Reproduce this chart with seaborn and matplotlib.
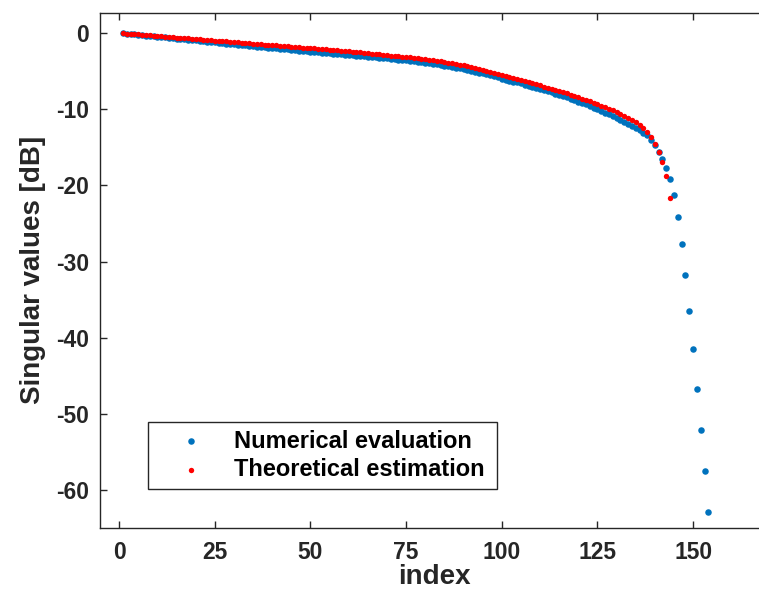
import numpy as np
import pandas as pd
import matplotlib
matplotlib.use("Agg")
import matplotlib.pyplot as plt
import seaborn as sns

# ---------------- data ----------------
numerical_db = [
    0.00, -0.05, -0.10, -0.15, -0.20, -0.25, -0.30, -0.35, -0.40, -0.45,
    -0.50, -0.55, -0.60, -0.65, -0.70, -0.75, -0.80, -0.85, -0.90, -0.95,
    -1.00, -1.05, -1.10, -1.15, -1.20, -1.25, -1.30, -1.35, -1.40, -1.45,
    -1.50, -1.55, -1.60, -1.65, -1.70, -1.75, -1.80, -1.85, -1.90, -1.95,
    -2.00, -2.04, -2.09, -2.13, -2.18, -2.22, -2.27, -2.31, -2.36, -2.40,
    -2.45, -2.49, -2.54, -2.58, -2.63, -2.67, -2.72, -2.76, -2.81, -2.85,
    -2.90, -2.94, -2.99, -3.03, -3.08, -3.12, -3.17, -3.21, -3.26, -3.30,
    -3.35, -3.40, -3.45, -3.50, -3.55, -3.61, -3.67, -3.73, -3.79, -3.85,
    -3.93, -4.01, -4.09, -4.17, -4.25, -4.34, -4.43, -4.52, -4.61, -4.70,
    -4.81, -4.92, -5.04, -5.16, -5.28, -5.40, -5.53, -5.66, -5.80, -5.95,
    -6.08, -6.21, -6.34, -6.47, -6.60, -6.74, -6.88, -7.02, -7.16, -7.30,
    -7.45, -7.60, -7.76, -7.92, -8.08, -8.25, -8.42, -8.60, -8.78, -8.97,
    -9.16, -9.36, -9.56, -9.77, -9.98, -10.20, -10.42, -10.65, -10.88, -11.12,
    -11.37, -11.62, -11.88, -12.15, -12.45, -12.75, -13.05, -13.40, -14.00, -14.70,
    -15.60, -16.50, -17.70, -19.20, -21.30, -24.10, -27.70, -31.80, -36.50, -41.50,
    -46.80, -52.10, -57.50, -62.90,
]
numerical_index = list(range(1, len(numerical_db) + 1))

theoretical_db = [
    0.00, -0.04, -0.08, -0.12, -0.16, -0.20, -0.24, -0.28, -0.32, -0.36,
    -0.40, -0.44, -0.48, -0.52, -0.56, -0.60, -0.64, -0.68, -0.72, -0.76,
    -0.80, -0.84, -0.88, -0.92, -0.96, -1.00, -1.04, -1.08, -1.12, -1.16,
    -1.20, -1.24, -1.28, -1.32, -1.36, -1.40, -1.44, -1.48, -1.52, -1.56,
    -1.60, -1.64, -1.68, -1.72, -1.76, -1.80, -1.84, -1.88, -1.92, -1.96,
    -2.00, -2.04, -2.08, -2.12, -2.16, -2.20, -2.24, -2.28, -2.33, -2.38,
    -2.43, -2.48, -2.53, -2.58, -2.63, -2.68, -2.73, -2.78, -2.83, -2.88,
    -2.93, -2.98, -3.03, -3.08, -3.13, -3.18, -3.23, -3.29, -3.35, -3.41,
    -3.48, -3.55, -3.62, -3.70, -3.78, -3.86, -3.95, -4.04, -4.13, -4.23,
    -4.33, -4.44, -4.55, -4.67, -4.79, -4.92, -5.05, -5.18, -5.32, -5.46,
    -5.60, -5.74, -5.88, -6.02, -6.16, -6.30, -6.44, -6.58, -6.72, -6.86,
    -7.00, -7.14, -7.29, -7.44, -7.59, -7.75, -7.91, -8.07, -8.24, -8.41,
    -8.58, -8.76, -8.94, -9.13, -9.32, -9.52, -9.72, -9.93, -10.14, -10.36,
    -10.59, -10.83, -11.08, -11.35, -11.65, -12.00, -12.42, -12.95, -13.65, -14.55,
    -15.60, -16.90, -18.70, -21.70,
]
theoretical_index = list(range(1, len(theoretical_db) + 1))

series_labels = ["Numerical evaluation", "Theoretical estimation"]
x_ticks = [0, 25, 50, 75, 100, 125, 150]
y_ticks = [-60, -50, -40, -30, -20, -10, 0]
x_label = "index"
y_label = "Singular values [dB]"

# ---------------- style ----------------
sns.set_theme(style="ticks")
plt.rcParams["font.family"] = ["Liberation Sans", "DejaVu Sans"]
plt.rcParams["font.weight"] = "bold"
plt.rcParams["axes.labelweight"] = "bold"
plt.rcParams["axes.unicode_minus"] = False

dark = (0.15, 0.15, 0.15)
blue = "#0072BD"
red = "#FF0000"

fig = plt.figure(figsize=(7.59, 5.93), dpi=100)
ax = fig.add_axes([0.1318, 0.1096, 0.8822, 0.869])

df_num = pd.DataFrame({"index": numerical_index, "sv": numerical_db})
df_th = pd.DataFrame({"index": theoretical_index, "sv": theoretical_db})

sns.scatterplot(data=df_num, x="index", y="sv", ax=ax, color=blue, s=22,
                linewidth=0, label=series_labels[0], zorder=2)
sns.scatterplot(data=df_th, x="index", y="sv", ax=ax, color=red, s=15,
                linewidth=0, label=series_labels[1], zorder=3)

ax.set_xlim(-5, 170)
ax.set_ylim(-65, 2.7)
ax.set_xticks(x_ticks)
ax.set_yticks(y_ticks)
ax.tick_params(direction="in", length=5, width=1, top=True, right=True,
               labelsize=16.5, color=dark, labelcolor=dark)
ax.tick_params(axis="x", pad=9)
ax.tick_params(axis="y", pad=8)
for sp in ax.spines.values():
    sp.set_color(dark)
    sp.set_linewidth(1.0)

ax.set_xlabel(x_label, fontsize=20, color=dark, labelpad=0)
ax.set_ylabel(y_label, fontsize=20, color=dark, labelpad=7)

leg = ax.legend(loc="lower left", bbox_to_anchor=(0.0717, 0.0757, 0.521, 0.134),
                mode="expand", borderaxespad=0, fontsize=17, frameon=True,
                fancybox=False, edgecolor=dark, framealpha=1,
                handlelength=3.0, handletextpad=0.3, borderpad=0.32,
                labelspacing=0.25)
leg.get_frame().set_linewidth(1.0)
for t in leg.get_texts():
    t.set_color("black")

fig.savefig("out.png", dpi=100)
